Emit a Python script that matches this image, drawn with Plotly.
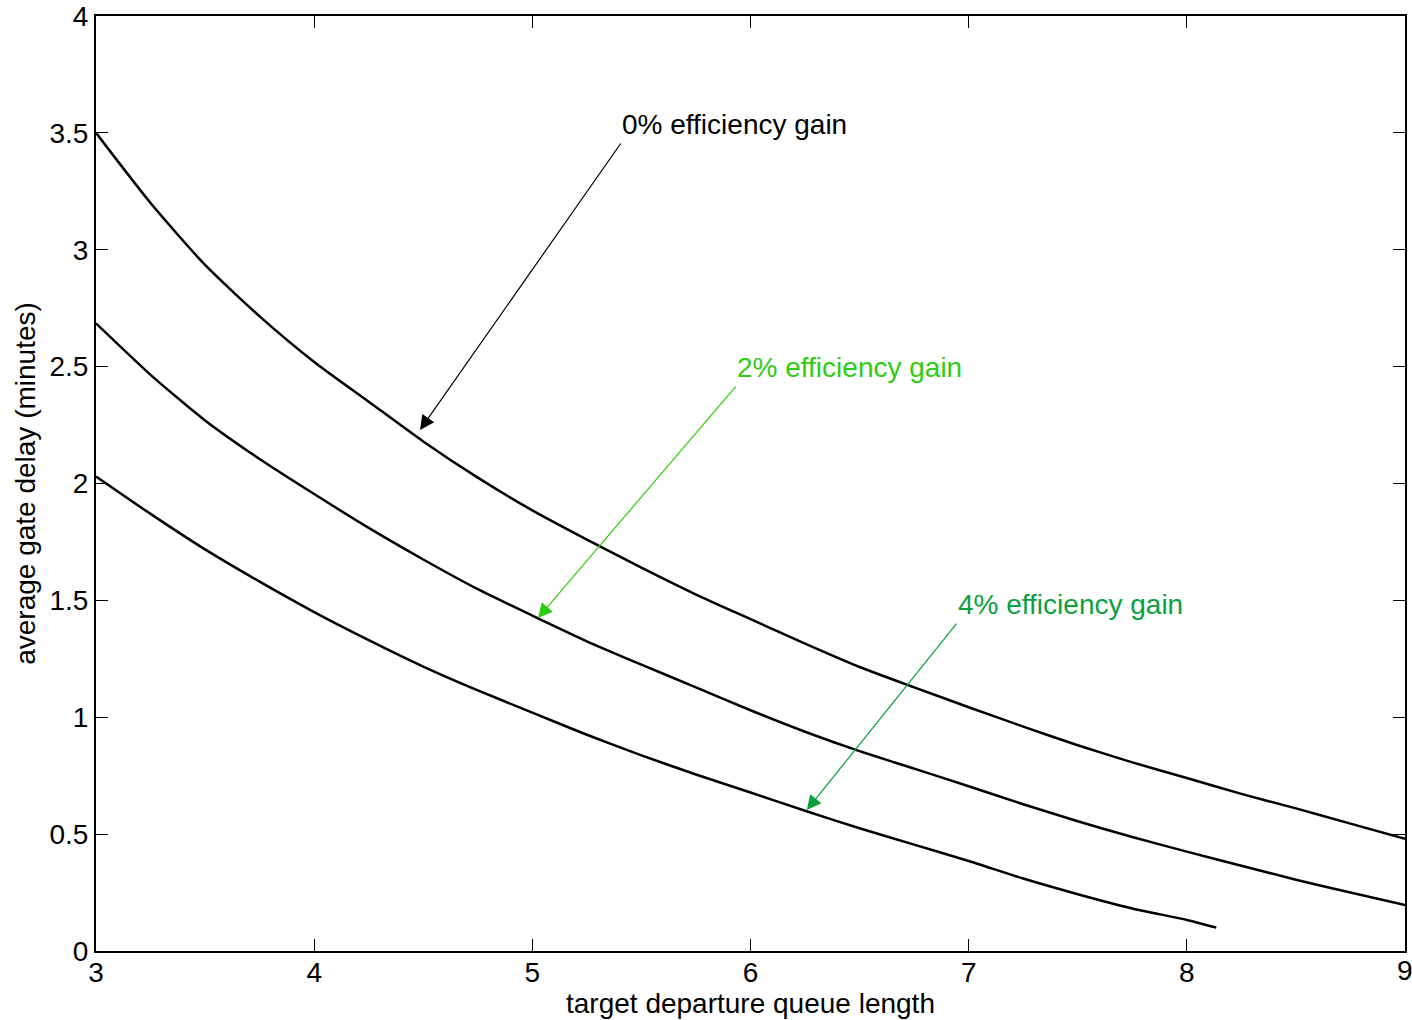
import plotly.graph_objects as go

# target departure queue length
x_0 = [3.0, 3.25, 3.5, 3.75, 4.0, 4.25, 4.5, 4.75, 5.0, 5.25, 5.5, 5.75, 6.0,
       6.25, 6.5, 6.75, 7.0, 7.25, 7.5, 7.75, 8.0, 8.25, 8.5, 8.75, 9.0]
# 0% efficiency gain
y_0 = [3.50, 3.20, 2.935, 2.715, 2.52, 2.35, 2.18, 2.025, 1.885, 1.76, 1.64, 1.525, 1.42,
       1.315, 1.215, 1.128, 1.043, 0.96, 0.88, 0.807, 0.74, 0.672, 0.61, 0.545, 0.48]

x_2 = x_0
# 2% efficiency gain
y_2 = [2.685, 2.465, 2.27, 2.105, 1.955, 1.81, 1.675, 1.548, 1.435, 1.325, 1.225, 1.128, 1.03,
       0.938, 0.855, 0.78, 0.705, 0.628, 0.555, 0.488, 0.425, 0.365, 0.305, 0.25, 0.197]

x_4 = [3.0, 3.25, 3.5, 3.75, 4.0, 4.25, 4.5, 4.75, 5.0, 5.25, 5.5, 5.75, 6.0,
       6.25, 6.5, 6.75, 7.0, 7.25, 7.5, 7.75, 8.0, 8.135]
# 4% efficiency gain
y_4 = [2.03, 1.87, 1.718, 1.58, 1.45, 1.33, 1.217, 1.115, 1.02, 0.925, 0.837, 0.755, 0.678,
       0.60, 0.525, 0.455, 0.385, 0.31, 0.243, 0.182, 0.133, 0.10]

labels = ["0% efficiency gain", "2% efficiency gain", "4% efficiency gain"]
label_colors = ["#000000", "#2ecc10", "#0aa03c"]
# annotation: (arrow head x, y), (arrow tail / text x, y)
heads = [(4.485, 2.229), (5.026, 1.425), (6.258, 0.603)]
tails = [(5.41, 3.461), (5.938, 2.421), (6.95, 1.407)]

xtick_vals = [3, 4, 5, 6, 7, 8, 9]
xtick_text = ["3", "4", "5", "6", "7", "8", "9"]
ytick_vals = [0, 0.5, 1, 1.5, 2, 2.5, 3, 3.5, 4]
ytick_text = ["0", "0.5", "1", "1.5", "2", "2.5", "3", "3.5", "4"]

FONT = "Liberation Sans, Arial"
FS = 28

fig = go.Figure()
for xs, ys in [(x_0, y_0), (x_2, y_2), (x_4, y_4)]:
    fig.add_trace(go.Scatter(x=xs, y=ys, mode="lines",
                             line=dict(color="black", width=2.5, shape="spline", smoothing=0.6),
                             showlegend=False, hoverinfo="skip"))

for lab, col, (hx, hy), (tx, ty) in zip(labels, label_colors, heads, tails):
    fig.add_annotation(x=hx, y=hy, ax=tx, ay=ty, xref="x", yref="y", axref="x", ayref="y",
                       text="", showarrow=True, arrowhead=2, arrowsize=2.4, arrowwidth=1.2,
                       arrowcolor=col)
    fig.add_annotation(x=tx, y=ty, xref="x", yref="y", text=lab, showarrow=False,
                       xanchor="left", yanchor="bottom", xshift=-2, yshift=0,
                       font=dict(family=FONT, size=FS, color=col))

# last x tick label sits on the page edge; draw it as an annotation so it is not dropped
fig.add_annotation(x=xtick_vals[-1], y=0, xref="x", yref="y", text=xtick_text[-1],
                   showarrow=False, xanchor="center", yanchor="top", yshift=-2,
                   font=dict(family=FONT, size=FS, color="black"))

axis_common = dict(showline=True, linecolor="black", linewidth=2, mirror="ticks",
                   ticks="inside", ticklen=12, tickwidth=1, tickcolor="black",
                   showgrid=False, zeroline=False, automargin=False,
                   tickfont=dict(family=FONT, size=FS, color="black"))

fig.update_xaxes(range=[3, 9], tickvals=xtick_vals[:-1] + [xtick_vals[-1]],
                 ticktext=xtick_text[:-1] + [""], ticklabelstandoff=-5, **axis_common,
                 title=dict(text="target departure queue length", standoff=4,
                            font=dict(family=FONT, size=FS, color="black")))
fig.update_yaxes(range=[0, 4], tickvals=ytick_vals, ticktext=ytick_text, **axis_common,
                 title=dict(text="average gate delay (minutes)", standoff=6,
                            font=dict(family=FONT, size=FS, color="black")))

fig.update_layout(width=1412, height=1020, margin=dict(l=96, r=7, t=16, b=69),
                  paper_bgcolor="white", plot_bgcolor="white")

fig.write_html("out.html")
